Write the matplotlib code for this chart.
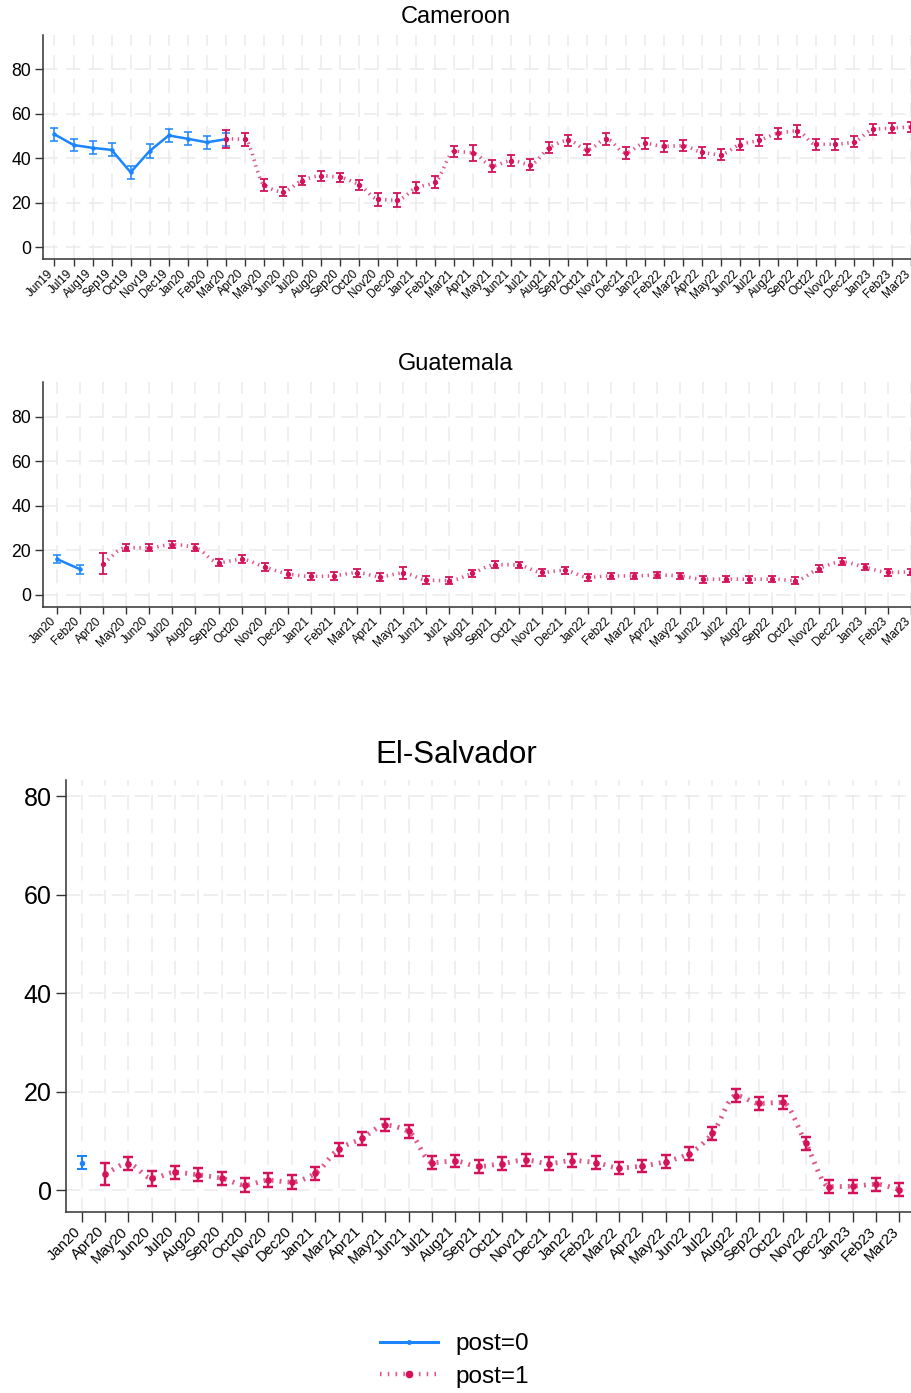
import numpy as np
import matplotlib
matplotlib.use('Agg')
import matplotlib.pyplot as plt
from matplotlib.path import Path
from matplotlib.patches import PathPatch
from matplotlib.lines import Line2D
from matplotlib.colors import to_rgba
from matplotlib.transforms import ScaledTranslation

plt.rcParams['font.family'] = ['Liberation Sans', 'DejaVu Sans']

BLUE = '#1A85FF'
RED = '#D41159'
RED_LINE = to_rgba(RED, 0.7)

# --- Cameroon ---
cm_months = ['Jun19', 'Jul19', 'Aug19', 'Sep19', 'Oct19', 'Nov19', 'Dec19',
             'Jan20', 'Feb20', 'Mar20', 'Apr20', 'May20', 'Jun20', 'Jul20',
             'Aug20', 'Sep20', 'Oct20', 'Nov20', 'Dec20', 'Jan21', 'Feb21',
             'Mar21', 'Apr21', 'May21', 'Jun21', 'Jul21', 'Aug21', 'Sep21',
             'Oct21', 'Nov21', 'Dec21', 'Jan22', 'Feb22', 'Mar22', 'Apr22',
             'May22', 'Jun22', 'Jul22', 'Aug22', 'Sep22', 'Oct22', 'Nov22',
             'Dec22', 'Jan23', 'Feb23', 'Mar23']
cm_pre = [50.7, 45.9, 44.6, 43.7, 33.6, 43.2, 50.2, 48.7, 47.1, 48.5]
cm_pre_ci = [3.0, 2.9, 2.9, 2.9, 2.9, 3.0, 2.8, 2.9, 2.8, 3.0]
cm_post_start = 'Mar20'
cm_post = [48.7, 48.4, 28.0, 24.8, 29.9, 32.0, 31.3, 28.0, 21.5, 21.1,
           26.6, 29.2, 43.0, 42.3, 36.5, 38.9, 37.1, 44.7, 48.0, 43.7,
           48.6, 42.3, 46.7, 45.3, 45.6, 42.6, 41.6, 46.1, 48.0, 51.1,
           52.2, 46.2, 46.2, 47.3, 52.9, 53.5, 54.0]
cm_post_ci = [4.1, 2.8, 2.8, 2.0, 2.0, 2.2, 2.2, 2.3, 3.0, 3.3,
              2.5, 2.8, 2.4, 3.6, 2.6, 2.6, 2.6, 2.5, 2.5, 2.5,
              2.5, 2.5, 2.5, 2.5, 2.5, 2.5, 2.5, 2.5, 2.5, 2.5,
              2.5, 2.5, 2.5, 2.5, 2.3, 2.3, 2.3]

# --- Guatemala ---
gt_months = ['Jan20', 'Feb20', 'Apr20', 'May20', 'Jun20', 'Jul20', 'Aug20',
             'Sep20', 'Oct20', 'Nov20', 'Dec20', 'Jan21', 'Feb21', 'Mar21',
             'Apr21', 'May21', 'Jun21', 'Jul21', 'Aug21', 'Sep21', 'Oct21',
             'Nov21', 'Dec21', 'Jan22', 'Feb22', 'Mar22', 'Apr22', 'May22',
             'Jun22', 'Jul22', 'Aug22', 'Sep22', 'Oct22', 'Nov22', 'Dec22',
             'Jan23', 'Feb23', 'Mar23']
gt_pre = [16.0, 11.4]
gt_pre_ci = [2.0, 2.0]
gt_post_start = 'Apr20'
gt_post = [13.9, 21.1, 21.1, 22.5, 21.1, 14.4, 15.9, 12.4, 9.4,
           8.2, 8.5, 9.9, 8.1, 9.7, 6.6, 6.3, 9.6, 13.5, 13.3, 10.0, 10.9,
           7.8, 8.4, 8.4, 8.8, 8.4, 6.9, 7.0, 6.9, 7.0, 6.3, 11.7, 14.7,
           12.4, 10.0, 10.2]
gt_post_ci = [4.8, 1.7, 1.6, 1.6, 1.6, 1.7, 1.7, 1.8, 1.8,
              1.6, 1.7, 1.8, 1.8, 2.5, 1.6, 1.6, 1.5, 1.6, 1.5, 1.6, 1.6,
              1.6, 1.5, 1.5, 1.5, 1.5, 1.5, 1.5, 1.5, 1.5, 1.5, 1.5, 1.6,
              1.5, 1.5, 1.5]

# --- El-Salvador ---
sv_months = ['Jan20', 'Apr20', 'May20', 'Jun20', 'Jul20', 'Aug20', 'Sep20',
             'Oct20', 'Nov20', 'Dec20', 'Jan21', 'Mar21', 'Apr21', 'May21',
             'Jun21', 'Jul21', 'Aug21', 'Sep21', 'Oct21', 'Nov21', 'Dec21',
             'Jan22', 'Feb22', 'Mar22', 'Apr22', 'May22', 'Jun22', 'Jul22',
             'Aug22', 'Sep22', 'Oct22', 'Nov22', 'Dec22', 'Jan23', 'Feb23',
             'Mar23']
sv_pre = [5.6]
sv_pre_ci = [1.25]
sv_post_start = 'Apr20'
sv_post = [3.3, 5.4, 2.4, 3.6, 3.1, 2.4, 1.0, 2.0, 1.6,
           3.4, 8.3, 10.5, 13.2, 11.9, 5.6, 5.9, 4.8, 5.4, 6.1, 5.4,
           6.0, 5.6, 4.5, 4.9, 5.8, 7.4, 11.5, 19.2, 17.6, 17.8, 9.5, 0.7,
           0.8, 1.2, 0.1]
sv_post_ci = [2.2, 1.3, 1.5, 1.3, 1.3, 1.3, 1.4, 1.4, 1.4,
              1.3, 1.3, 1.3, 1.3, 1.3, 1.3, 1.3, 1.3, 1.3, 1.3, 1.3,
              1.3, 1.3, 1.3, 1.3, 1.3, 1.3, 1.3, 1.3, 1.3, 1.3, 1.3, 1.3,
              1.3, 1.3, 1.3]


def smooth_path(x, y):
    # monotone cubic (Fritsch-Carlson) tangents -> bezier segments
    x = np.asarray(x, float)
    y = np.asarray(y, float)
    h = np.diff(x)
    d = np.diff(y) / h
    m = np.zeros_like(y)
    m[0], m[-1] = d[0], d[-1]
    for i in range(1, len(y) - 1):
        if d[i - 1] * d[i] > 0:
            m[i] = 2.0 / (1.0 / d[i - 1] + 1.0 / d[i])
    verts = [(x[0], y[0])]
    codes = [Path.MOVETO]
    for i in range(len(h)):
        verts += [(x[i] + h[i] / 3, y[i] + m[i] * h[i] / 3),
                  (x[i + 1] - h[i] / 3, y[i + 1] - m[i + 1] * h[i] / 3),
                  (x[i + 1], y[i + 1])]
        codes += [Path.CURVE4] * 3
    return Path(verts, codes)


def draw_panel(ax, months, pre, pre_ci, post_start, post, post_ci,
               ylim, big=False):
    s = 1.35 if big else 1.0
    xpre = np.arange(len(pre))
    x0 = months.index(post_start)
    xpost = np.arange(x0, x0 + len(post))

    ax.set_xlim(-0.68 if big else -0.62, len(months) - 1 + (0.54 if big else 0.05))
    ax.set_ylim(*ylim)

    # grid
    for yv in [0, 20, 40, 60, 80]:
        ax.axhline(yv, color='#ebebeb', lw=1.1, ls=(0, (9.5, 5.5)), zorder=0)
    for xv in range(len(months)):
        ax.axvline(xv, color='#ebebeb', lw=1.1, ls=(0, (9.5, 6)), zorder=0)

    # post=0
    if len(pre) > 1:
        ax.plot(xpre, pre, color=BLUE, lw=1.8 * s, zorder=3)
    ax.errorbar(xpre, pre, yerr=pre_ci, fmt='o', color=BLUE, ms=2.2 * s,
                elinewidth=1.1 * s, capsize=2.9 * s, capthick=1.1 * s, zorder=4)

    # post=1
    patch = PathPatch(smooth_path(xpost, post), fill=False, edgecolor=RED_LINE,
                      lw=2.6 * s, ls=(0, (0.4, 1.25)), zorder=2)
    ax.add_patch(patch)
    ax.errorbar(xpost, post, yerr=post_ci, fmt='o', color=RED, ms=2.8 * s,
                elinewidth=1.3 * s, capsize=2.9 * s, capthick=1.3 * s, zorder=5)

    # month labels, rotated and tucked just under the tick ends
    tick_len = 7 if big else 5
    ax.set_xticks(range(len(months)))
    ax.set_xticklabels([])
    offset = ScaledTranslation(-2.0 / 72, -(tick_len + (5.5 if big else 4.2)) / 72,
                               ax.figure.dpi_scale_trans)
    for i, lab in enumerate(months):
        ax.text(i, 0, lab, transform=ax.get_xaxis_transform() + offset,
                rotation=45, ha='right', va='center', rotation_mode='anchor',
                fontsize=10.6 if big else 8.5, clip_on=False)

    ax.set_yticks([0, 20, 40, 60, 80])
    ax.tick_params(axis='y', labelsize=18 if big else 12.7,
                   length=7 if big else 5.5, width=1.0, color='#333333', pad=3)
    ax.tick_params(axis='x', length=tick_len, width=1.0, color='#333333')
    for side in ['top', 'right']:
        ax.spines[side].set_visible(False)
    for side in ['left', 'bottom']:
        ax.spines[side].set_color('#333333')
        ax.spines[side].set_linewidth(1.1)


fig = plt.figure(figsize=(9.12, 13.93), dpi=100)

ax1 = fig.add_axes([0.0468, 0.8139, 0.9532, 0.1610])
ax2 = fig.add_axes([0.0468, 0.5645, 0.9532, 0.1613])
ax3 = fig.add_axes([0.0720, 0.1301, 0.9280, 0.3099])

draw_panel(ax1, cm_months, cm_pre, cm_pre_ci, cm_post_start, cm_post,
           cm_post_ci, (-5.5, 95.4))
draw_panel(ax2, gt_months, gt_pre, gt_pre_ci, gt_post_start, gt_post,
           gt_post_ci, (-5.4, 95.6))
draw_panel(ax3, sv_months, sv_pre, sv_pre_ci, sv_post_start, sv_post,
           sv_post_ci, (-4.4, 83.25), big=True)

fig.text(0.5, 0.9878, 'Cameroon', ha='center', va='center', fontsize=17)
fig.text(0.5, 0.7387, 'Guatemala', ha='center', va='center', fontsize=17)
fig.text(0.5, 0.4580, 'El-Salvador', ha='center', va='center', fontsize=22.5)

handles = [
    Line2D([], [], color=BLUE, lw=2.2, marker='o', ms=2.5),
    Line2D([], [], color=RED_LINE, lw=3.2, ls=(0, (0.35, 1.4)), marker='o',
           ms=4.5, markerfacecolor=RED, markeredgecolor=RED),
]
fig.legend(handles, ['post=0', 'post=1'], loc='center',
           bbox_to_anchor=(0.498, 0.0233), frameon=False, fontsize=17.5,
           handlelength=2.4, handletextpad=0.7, labelspacing=0.42,
           borderpad=0, numpoints=1)

fig.savefig('out.png', dpi=100)
